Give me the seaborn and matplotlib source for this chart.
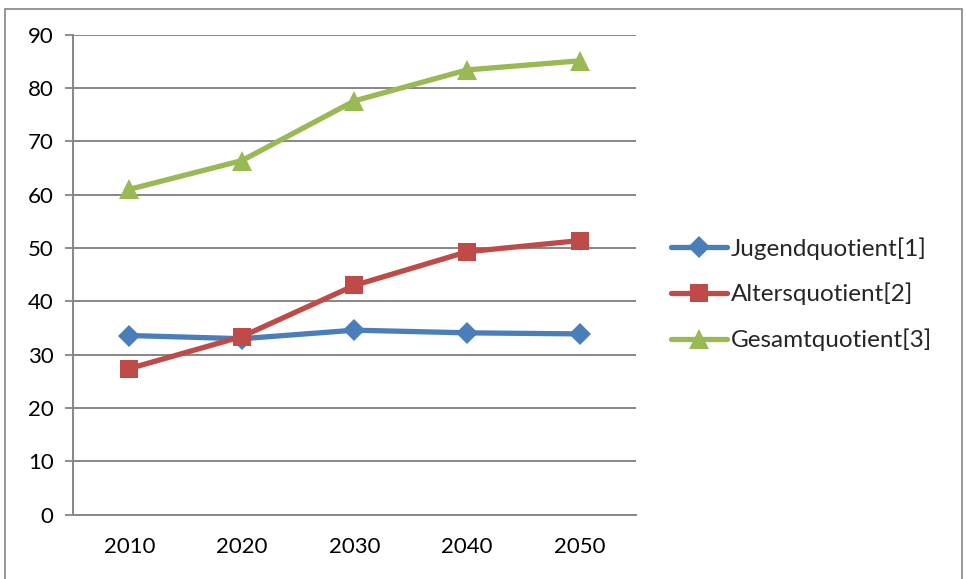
import matplotlib
matplotlib.use("Agg")
import matplotlib.pyplot as plt
import pandas as pd
import seaborn as sns
from matplotlib.patches import Rectangle

years = ["2010", "2020", "2030", "2040", "2050"]
jugend = [33.6, 33.0, 34.6, 34.1, 33.9]
alters = [27.4, 33.4, 43.0, 49.3, 51.4]
gesamt = [61.0, 66.4, 77.6, 83.4, 85.1]
series_names = ["Jugendquotient[1]", "Altersquotient[2]", "Gesamtquotient[3]"]
y_ticks = [0, 10, 20, 30, 40, 50, 60, 70, 80, 90]

colors = {"Jugendquotient[1]": "#4a7ebb",
          "Altersquotient[2]": "#be4b48",
          "Gesamtquotient[3]": "#98b954"}
markers = {"Jugendquotient[1]": "D",
           "Altersquotient[2]": "s",
           "Gesamtquotient[3]": "^"}
grid_grey = "#868686"

df = pd.DataFrame({"Jahr": years * 3,
                   "Wert": jugend + alters + gesamt,
                   "Reihe": [n for n in series_names for _ in years]})

sns.set_style("white")
plt.rcParams["font.family"] = ["Lato", "DejaVu Sans"]

fig = plt.figure(figsize=(9.66, 5.79), dpi=100)
ax = fig.add_axes([73 / 966, 1 - 514.7 / 579, 563 / 966, 480 / 579])

sns.lineplot(data=df, x="Jahr", y="Wert", hue="Reihe", style="Reihe",
             palette=colors, markers=markers, dashes=False,
             linewidth=3.8, markersize=11, markeredgewidth=0,
             sort=False, ax=ax, zorder=3)

# sizes per marker shape (squares and triangles look bigger in the original)
for line in ax.get_lines():
    if line.get_marker() == "s":
        line.set_markersize(13.5)
    elif line.get_marker() == "^":
        line.set_markersize(14.5)

ax.set_xlim(-0.5, 4.5)
ax.set_ylim(0, 90)
ax.set_yticks(y_ticks)
ax.set_xticks(range(len(years)))
ax.set_xticklabels(years)
ax.set_xticks([i - 0.5 for i in range(len(years) + 1)], minor=True)
ax.tick_params(axis="x", which="major", length=0, pad=16, labelsize=16,
               colors="black")
ax.tick_params(axis="x", which="minor", length=6, width=1.3, color=grid_grey,
               direction="out")
ax.tick_params(axis="y", length=6, width=1.3, color=grid_grey, pad=8,
               labelsize=16, labelcolor="black", left=True)
ax.set_xlabel("")
ax.set_ylabel("")

ax.grid(True, axis="y", color=grid_grey, linewidth=1.4, zorder=0)
ax.set_axisbelow(True)
for side in ["top", "right"]:
    ax.spines[side].set_visible(False)
for side in ["left", "bottom"]:
    ax.spines[side].set_color(grid_grey)
    ax.spines[side].set_linewidth(1.4)

# legend on the right
handles, labels = ax.get_legend_handles_labels()
ax.legend(handles, labels, loc="center left",
          bbox_to_anchor=(671 / 966, 1 - 294 / 579),
          bbox_transform=fig.transFigure, frameon=False,
          fontsize=17.5, handlelength=2.3, handletextpad=0.15,
          labelspacing=0.95, borderpad=0, borderaxespad=0)

# chart border
fig.patches.append(Rectangle((5 / 966, -0.02), 957 / 966, 1 - 9 / 579 + 0.02,
                             transform=fig.transFigure, fill=False,
                             ec=grid_grey, lw=1.2))

fig.savefig("out.png", dpi=100)
